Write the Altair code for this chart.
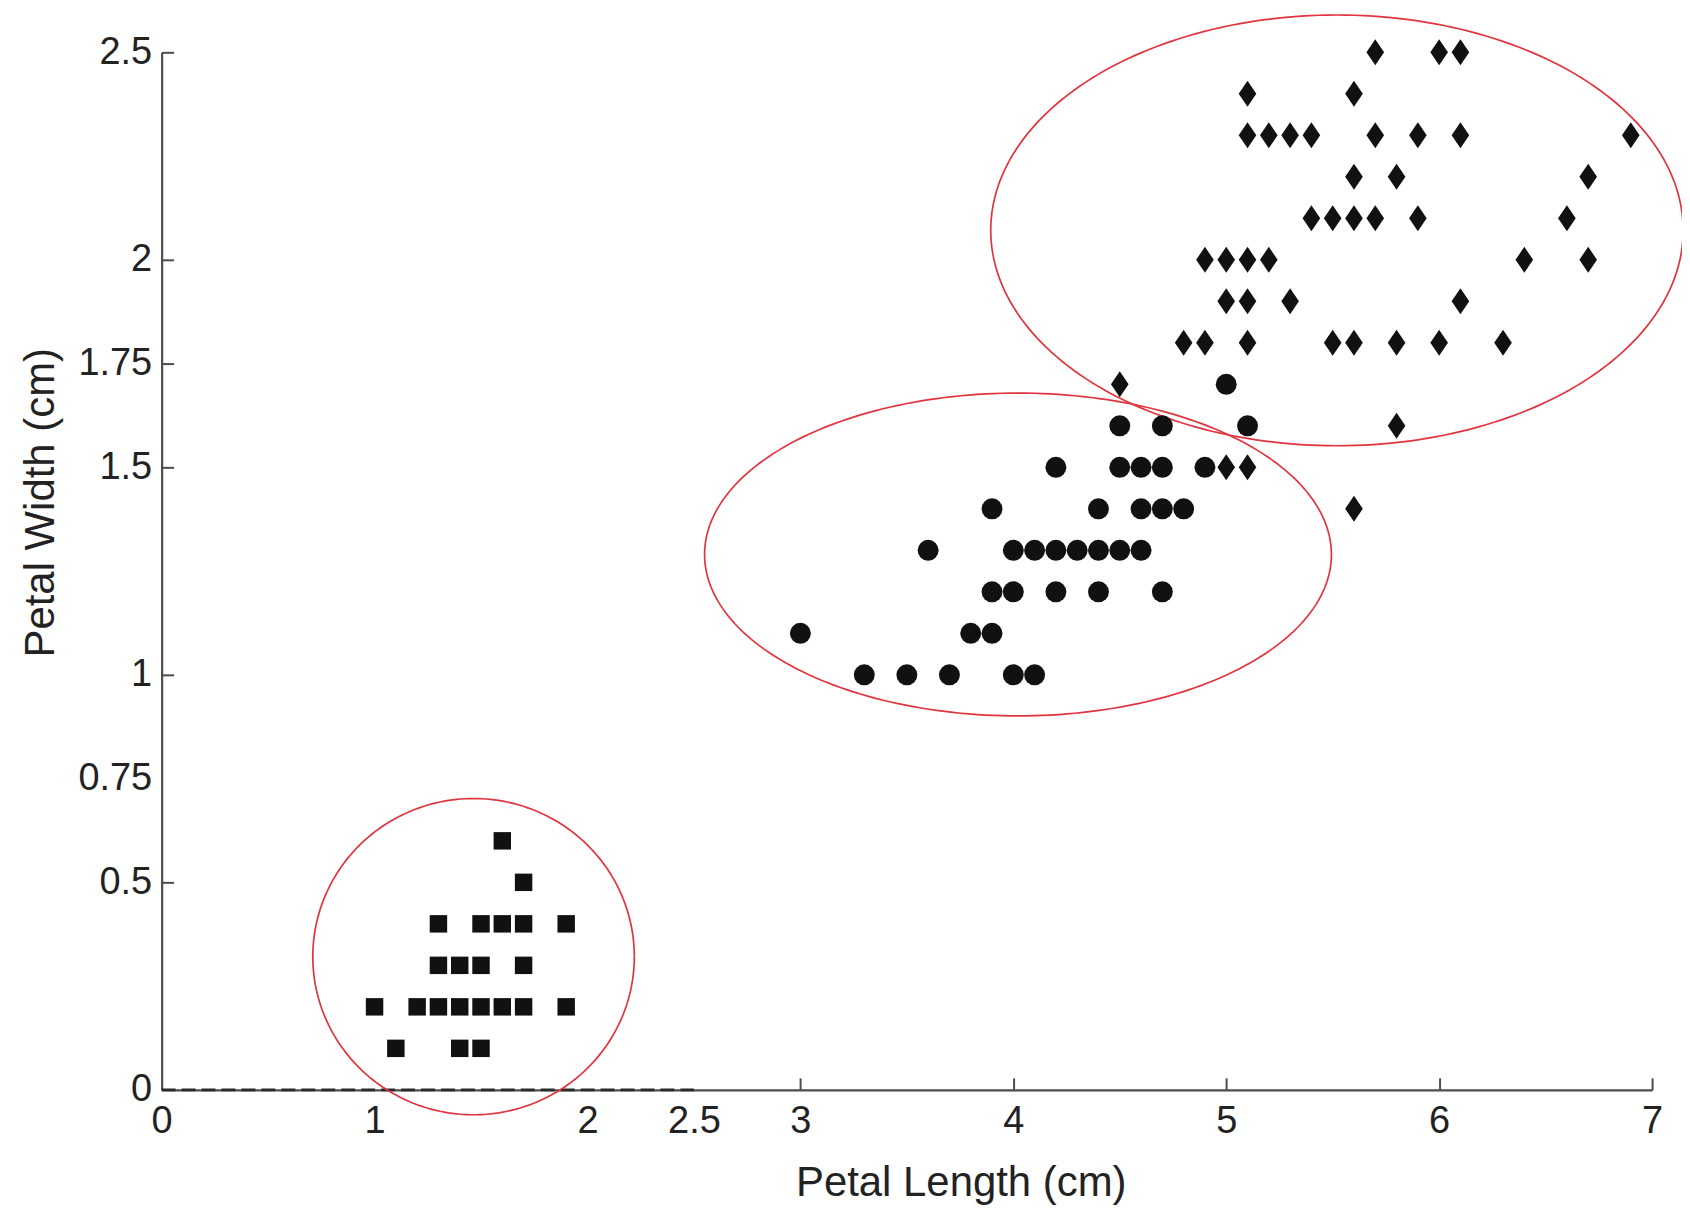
import altair as alt
import numpy as np
import pandas as pd

# ---------------- data ----------------
setosa_x = [1.6, 1.7, 1.3, 1.5, 1.6, 1.7, 1.9, 1.3, 1.4, 1.5, 1.7,
            1.0, 1.2, 1.3, 1.4, 1.5, 1.6, 1.7, 1.9, 1.1, 1.4, 1.5]
setosa_y = [0.6, 0.5, 0.4, 0.4, 0.4, 0.4, 0.4, 0.3, 0.3, 0.3, 0.3,
            0.2, 0.2, 0.2, 0.2, 0.2, 0.2, 0.2, 0.2, 0.1, 0.1, 0.1]

versi_x = [5.0,
           4.5, 4.7, 5.1,
           4.2, 4.5, 4.6, 4.7, 4.9,
           3.9, 4.4, 4.6, 4.7, 4.8,
           3.6, 4.0, 4.1, 4.2, 4.3, 4.4, 4.5, 4.6,
           3.9, 4.0, 4.2, 4.4, 4.7,
           3.0, 3.8, 3.9,
           3.3, 3.5, 3.7, 4.0, 4.1]
versi_y = [1.7,
           1.6, 1.6, 1.6,
           1.5, 1.5, 1.5, 1.5, 1.5,
           1.4, 1.4, 1.4, 1.4, 1.4,
           1.3, 1.3, 1.3, 1.3, 1.3, 1.3, 1.3, 1.3,
           1.2, 1.2, 1.2, 1.2, 1.2,
           1.1, 1.1, 1.1,
           1.0, 1.0, 1.0, 1.0, 1.0]

virg_x = [5.7, 6.0, 6.1,
          5.1, 5.6,
          5.1, 5.2, 5.3, 5.4, 5.7, 5.9, 6.1, 6.9,
          5.6, 5.8, 6.7,
          5.4, 5.5, 5.6, 5.7, 5.9, 6.6,
          4.9, 5.0, 5.1, 5.2, 6.4, 6.7,
          5.0, 5.1, 5.3, 6.1,
          4.8, 4.9, 5.1, 5.5, 5.6, 5.8, 6.0, 6.3,
          4.5,
          5.8,
          5.0, 5.1,
          5.6]
virg_y = [2.5, 2.5, 2.5,
          2.4, 2.4,
          2.3, 2.3, 2.3, 2.3, 2.3, 2.3, 2.3, 2.3,
          2.2, 2.2, 2.2,
          2.1, 2.1, 2.1, 2.1, 2.1, 2.1,
          2.0, 2.0, 2.0, 2.0, 2.0, 2.0,
          1.9, 1.9, 1.9, 1.9,
          1.8, 1.8, 1.8, 1.8, 1.8, 1.8, 1.8, 1.8,
          1.7,
          1.6,
          1.5, 1.5,
          1.4]

# cluster ellipses: centre and radii in data units
ell_names = ["setosa", "versicolor", "virginica"]
ell_cx = [1.465, 4.022, 5.52]
ell_cy = [0.321, 1.290, 2.071]
ell_rx = [0.755, 1.472, 1.626]
ell_ry = [0.381, 0.389, 0.519]

# dashed segment on the x axis
dash_x = [0.0, 2.5]
dash_y = [0.0, 0.0]

x_label_vals = [0, 1, 2, 2.5, 3, 4, 5, 6, 7]
y_label_vals = [0, 0.5, 0.75, 1, 1.5, 1.75, 2, 2.5]
x_tick_vals = [3, 4, 5, 6, 7]
y_tick_vals = [0.5, 1, 1.5, 1.75, 2, 2.5]

# ---------------- tables ----------------
df_set = pd.DataFrame({"x": setosa_x, "y": setosa_y})
df_ver = pd.DataFrame({"x": versi_x, "y": versi_y})
df_vir = pd.DataFrame({"x": virg_x, "y": virg_y})
df_dash = pd.DataFrame({"x": dash_x, "y": dash_y})

t = np.linspace(0, 2 * np.pi, 241)
rows = []
for n, cx, cy, rx, ry in zip(ell_names, ell_cx, ell_cy, ell_rx, ell_ry):
    for i, a in enumerate(t):
        rows.append({"grp": n, "i": i, "x": cx + rx * np.cos(a), "y": cy + ry * np.sin(a)})
df_ell = pd.DataFrame(rows)

# ---------------- styling ----------------
W, H = 1494, 1040
FONT = "Liberation Sans"
AX = "#4d4d4d"
TXT = "#222222"
PT = "#111111"
RED = "#e0353f"

xs = alt.Scale(domain=[0, 7], nice=False, zero=False)
ys = alt.Scale(domain=[0, 2.5], nice=False, zero=False)

x_main = alt.Axis(values=x_label_vals, labelExpr="'' + datum.value", ticks=False,
                  grid=False, domain=True, domainColor=AX, domainWidth=2.2,
                  labelFont=FONT, labelFontSize=38, labelColor=TXT, labelPadding=13,
                  labelFlush=False, labelOverlap=False,
                  title="Petal Length (cm)", titleFont=FONT, titleFontSize=42,
                  titleFontWeight="normal", titleColor=TXT, titleX=801, titleY=106,
                  titleAlign="center", titleBaseline="alphabetic")
y_main = alt.Axis(values=y_label_vals, labelExpr="'' + datum.value", ticks=False,
                  grid=False, domain=True, domainColor=AX, domainWidth=2.2,
                  labelFont=FONT, labelFontSize=38, labelColor=TXT, labelPadding=10,
                  labelFlush=False, labelOverlap=False,
                  title="Petal Width (cm)", titleFont=FONT, titleFontSize=42,
                  titleFontWeight="normal", titleColor=TXT, titleX=-108, titleY=451,
                  titleAlign="center", titleBaseline="alphabetic", titleAngle=270)

x_ticks = alt.Axis(orient="top", offset=-H, values=x_tick_vals, labels=False,
                   domain=False, ticks=True, tickSize=12, tickColor=AX, tickWidth=2,
                   grid=False, title=None)
y_ticks = alt.Axis(orient="right", offset=-W, values=y_tick_vals, labels=False,
                   domain=False, ticks=True, tickSize=12, tickColor=AX, tickWidth=2,
                   grid=False, title=None)

# ---------------- layers ----------------
dash = alt.Chart(df_dash).mark_line(color="#2a2a2a", strokeWidth=2.6,
                                    strokeDash=[14, 6]).encode(
    x=alt.X("x:Q", scale=xs, axis=x_ticks),
    y=alt.Y("y:Q", scale=ys, axis=y_ticks),
)

ell = alt.Chart(df_ell).mark_line(color=RED, strokeWidth=1.7, clip=False).encode(
    x=alt.X("x:Q", scale=xs, axis=None),
    y=alt.Y("y:Q", scale=ys, axis=None),
    detail="grp:N",
    order="i:Q",
)

setosa = alt.Chart(df_set).mark_point(shape="square", size=306, filled=True,
                                      color=PT, opacity=1).encode(
    x=alt.X("x:Q", scale=xs, axis=x_main),
    y=alt.Y("y:Q", scale=ys, axis=y_main),
)

versi = alt.Chart(df_ver).mark_point(shape="circle", size=441, filled=True,
                                     color=PT, opacity=1).encode(
    x=alt.X("x:Q", scale=xs, axis=None),
    y=alt.Y("y:Q", scale=ys, axis=None),
)

virg = alt.Chart(df_vir).mark_point(shape="M0,-1L0.68,0L0,1L-0.68,0Z", size=676,
                                    filled=True, color=PT, opacity=1).encode(
    x=alt.X("x:Q", scale=xs, axis=None),
    y=alt.Y("y:Q", scale=ys, axis=None),
)

chart = alt.layer(dash, ell, setosa, versi, virg).resolve_axis(
    x="independent", y="independent"
).properties(
    width=W, height=H,
    autosize=alt.AutoSizeParams(type="none"),
    padding={"left": 154, "top": 43, "right": 30, "bottom": 116},
    background="white",
).configure_view(stroke=None)

chart.save("out.html", embed_options={"renderer": "svg", "actions": False})
